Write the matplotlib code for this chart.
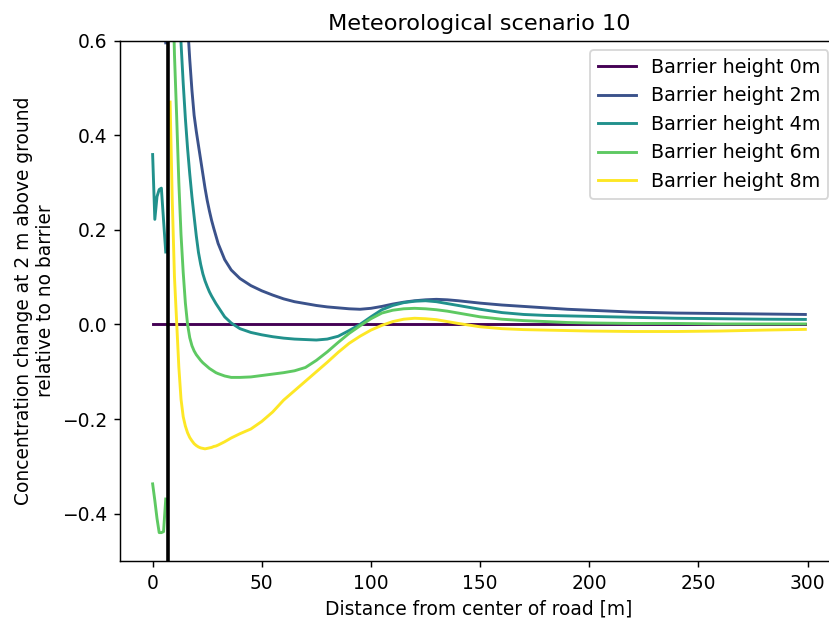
import numpy as np
import matplotlib
matplotlib.use("Agg")
import matplotlib.pyplot as plt

# Distances [m]; barrier at 7 m (NaN breaks the curves there)
x_pre = [0, 1, 2, 3, 4, 5, 6]
x_post = [8, 9, 10, 11, 12, 13, 14, 15, 16, 17, 18, 19, 20, 21, 22, 23, 24, 25, 26,
          27, 28, 29, 30, 33, 36, 40, 45, 50, 55, 60, 65, 70, 75, 80, 85, 90, 95, 100,
          105, 110, 115, 120, 125, 130, 135, 140, 150, 160, 170, 180, 190, 200, 220,
          240, 260, 280, 299]
barrier_x = 7

h0_pre = [0, 0, 0, 0, 0, 0, 0]
h0_post = [0.0] * 57

h2_pre = [1.6, 1.2, 1.0, 0.9, 0.8, 0.7, 0.595]
h2_post = [2.5, 2.0, 1.6, 1.3, 1.1, 0.95, 0.82, 0.72, 0.635, 0.56, 0.495, 0.442, 0.408,
           0.378, 0.348, 0.318, 0.288, 0.262, 0.24, 0.22, 0.203, 0.187, 0.171,
           0.137, 0.115, 0.097, 0.082, 0.071, 0.062, 0.054, 0.048, 0.044,
           0.040, 0.037, 0.035, 0.033, 0.032, 0.034, 0.038, 0.043, 0.047, 0.050, 0.052,
           0.053, 0.052, 0.050, 0.045, 0.041, 0.038, 0.035, 0.032, 0.030, 0.026, 0.024,
           0.023, 0.022, 0.021]

h4_pre = [0.359, 0.222, 0.27, 0.285, 0.288, 0.22, 0.153]
h4_post = [1.6, 1.3, 1.05, 0.85, 0.7, 0.595, 0.51, 0.435, 0.372, 0.318, 0.27, 0.228,
           0.187, 0.152, 0.127, 0.107, 0.092, 0.08, 0.069, 0.06, 0.052, 0.044, 0.037,
           0.016, 0.003, -0.009, -0.017, -0.022, -0.026, -0.029,
           -0.031, -0.032, -0.033, -0.031, -0.025, -0.013, 0.0, 0.016, 0.031, 0.040,
           0.046, 0.049, 0.050, 0.048, 0.044, 0.040, 0.032, 0.025, 0.021, 0.019, 0.018,
           0.017, 0.015, 0.013, 0.012, 0.011, 0.0105]

h6_pre = [-0.337, -0.372, -0.41, -0.44, -0.44, -0.438, -0.369]
h6_post = [1.0, 0.75, 0.57, 0.44, 0.3, 0.19, 0.11, 0.045, 0.0, -0.028, -0.045, -0.056,
           -0.064, -0.07, -0.076, -0.081, -0.085, -0.089, -0.093, -0.096, -0.099,
           -0.102, -0.104, -0.109, -0.112, -0.112, -0.111, -0.108, -0.105,
           -0.102, -0.098, -0.091, -0.076, -0.058, -0.038, -0.019, -0.003, 0.012, 0.024,
           0.030, 0.033, 0.034, 0.033, 0.031, 0.028, 0.024, 0.016, 0.011, 0.008, 0.006,
           0.004, 0.003, 0.002, 0.002, 0.001, 0.001, 0.001]

h8_pre = [-0.6, -0.7, -0.75, -0.76, -0.75, -0.7, -0.65]
h8_post = [0.47, 0.26, 0.1, 0.005, -0.09, -0.158, -0.195, -0.215, -0.229, -0.239,
           -0.246, -0.252, -0.256, -0.259, -0.261, -0.262, -0.263, -0.262, -0.261,
           -0.26, -0.258, -0.257, -0.255, -0.248, -0.24, -0.231, -0.221,
           -0.205, -0.185, -0.16, -0.14, -0.12, -0.1, -0.08, -0.059, -0.04, -0.025,
           -0.012, -0.002, 0.006, 0.011, 0.013, 0.012, 0.010, 0.006, 0.002, -0.005,
           -0.009, -0.011, -0.012, -0.013, -0.014, -0.015, -0.015, -0.014, -0.012,
           -0.0105]

labels = ["Barrier height 0m", "Barrier height 2m", "Barrier height 4m",
          "Barrier height 6m", "Barrier height 8m"]
colors = ["#440154", "#3b528b", "#21918c", "#5ec962", "#fde725"]

x_all = np.array(x_pre + [barrier_x] + x_post, dtype=float)
series = [
    h0_pre + [0.0] + h0_post,
    h2_pre + [np.nan] + h2_post,
    h4_pre + [np.nan] + h4_post,
    h6_pre + [np.nan] + h6_post,
    h8_pre + [np.nan] + h8_post,
]

plt.rcParams["font.size"] = 10.3

W, H, DPI = 829, 621, 130
fig = plt.figure(figsize=(W / DPI, H / DPI), dpi=DPI)
left_px, right_px, top_px, bot_px = 120, 838, 40.5, 561
ax = fig.add_axes([left_px / W, 1 - bot_px / H, (right_px - left_px) / W, (bot_px - top_px) / H])

for y, lab, c in zip(series, labels, colors):
    ax.plot(x_all, np.array(y, dtype=float), color=c, lw=1.6, label=lab)

ax.axvline(barrier_x, color="black", lw=2)

ax.set_xlim(-14.95, 313.95)
ax.set_ylim(-0.5, 0.6)
ax.set_yticks([-0.4, -0.2, 0.0, 0.2, 0.4, 0.6])
ax.set_xticks([0, 50, 100, 150, 200, 250, 300])
ax.set_xlabel("Distance from center of road [m]")
ax.set_ylabel("Concentration change at 2 m above ground\nrelative to no barrier")
ax.set_title("Meteorological scenario 10")
ax.legend(loc="upper right", fontsize=10.6)

fig.savefig("out.png", dpi=DPI)
